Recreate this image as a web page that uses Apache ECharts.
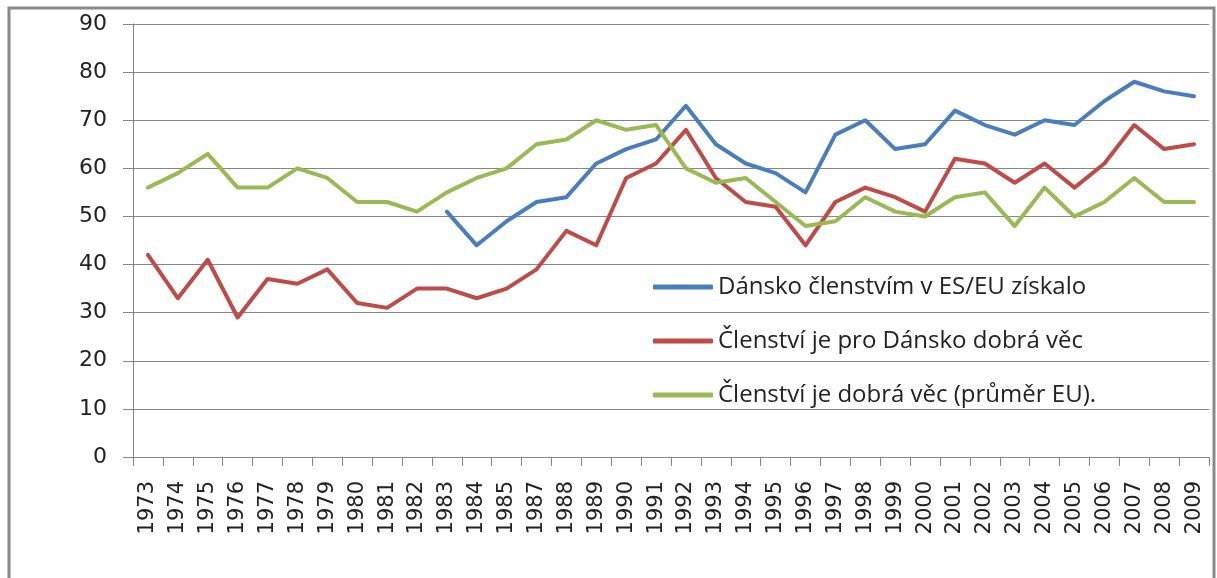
<!DOCTYPE html>
<html>
<head>
<meta charset="utf-8">
<title>Dánsko a členství v EU</title>
<script src="https://cdn.jsdelivr.net/npm/echarts@6/dist/echarts.min.js"></script>
<style>
  html, body { margin: 0; padding: 0; background: #fff; }
  #chart { width: 1217px; height: 578px; }
</style>
</head>
<body>
<div id="chart"></div>
<script>
  // roky (1986 v grafu chybí)
  const years = ['1973', '1974', '1975', '1976', '1977', '1978', '1979', '1980', '1981', '1982',
    '1983', '1984', '1985', '1987', '1988', '1989', '1990', '1991', '1992', '1993', '1994', '1995',
    '1996', '1997', '1998', '1999', '2000', '2001', '2002', '2003', '2004', '2005', '2006', '2007',
    '2008', '2009']

  const seriesNames = [
    'Dánsko členstvím v ES/EU získalo',
    'Členství je pro Dánsko dobrá věc',
    'Členství je dobrá věc (průměr EU).'
  ]

  const gained = [null, null, null, null, null, null, null, null, null, null,
    51, 44, 49, 53, 54, 61, 64, 66, 73, 65, 61, 59,
    55, 67, 70, 64, 65, 72, 69, 67, 70, 69, 74, 78, 76, 75]

  const goodForDenmark = [42, 33, 41, 29, 37, 36, 39, 32, 31, 35,
    35, 33, 35, 39, 47, 44, 58, 61, 68, 58, 53, 52,
    44, 53, 56, 54, 51, 62, 61, 57, 61, 56, 61, 69, 64, 65]

  const goodEuAverage = [56, 59, 63, 56, 56, 60, 58, 53, 53, 51,
    55, 58, 60, 65, 66, 70, 68, 69, 60, 57, 58, 53,
    48, 49, 54, 51, 50, 54, 55, 48, 56, 50, 53, 58, 53, 53]

  const colors = ['#4a7ebb', '#be4b48', '#98b954']
  const axisGray = '#868686'

  const chart = echarts.init(document.getElementById('chart'))

  const list = [gained, goodForDenmark, goodEuAverage].map((data, i) => {
    return {
      name: seriesNames[i],
      type: 'line',
      data: data,
      showSymbol: false,
      symbol: 'none',
      connectNulls: false,
      lineStyle: { width: 4, color: colors[i], join: 'round', cap: 'round' },
      itemStyle: { color: colors[i] }
    }
  })

  const option = {
    animation: false,
    backgroundColor: '#fff',
    graphic: [
      {
        type: 'rect',
        shape: { x: 9, y: 8, width: 1205, height: 620 },
        style: { fill: 'none', stroke: '#8a8a8a', lineWidth: 3 },
        silent: true
      }
    ],
    grid: {
      left: 133,
      right: 8,
      top: 24,
      bottom: 121,
      containLabel: false
    },
    legend: {
      data: seriesNames,
      orient: 'vertical',
      left: 648,
      top: 270,
      itemWidth: 60,
      itemHeight: 5,
      itemGap: 30,
      icon: 'roundRect',
      textStyle: {
        fontFamily: 'Open Sans',
        fontSize: 24,
        color: '#222',
        padding: [0, 0, 0, 0]
      }
    },
    xAxis: [
      {
        type: 'category',
        boundaryGap: true,
        data: years,
        axisLine: { show: true, lineStyle: { color: axisGray, width: 1 } },
        axisTick: { show: true, length: 9, interval: 0, lineStyle: { color: axisGray } },
        axisLabel: {
          interval: 0,
          rotate: 90,
          margin: 24,
          fontFamily: 'DejaVu Sans',
          fontSize: 21,
          color: '#222'
        }
      }
    ],
    yAxis: [
      {
        type: 'value',
        min: 0,
        max: 90,
        interval: 10,
        axisLine: { show: true, lineStyle: { color: axisGray, width: 1 } },
        axisTick: { show: true, length: 10, lineStyle: { color: axisGray } },
        splitLine: { show: true, lineStyle: { color: axisGray, width: 1 } },
        axisLabel: {
          margin: 26,
          fontFamily: 'DejaVu Sans',
          fontSize: 22,
          color: '#222'
        }
      }
    ],
    series: list
  }

  chart.setOption(option)
</script>
</body>
</html>
